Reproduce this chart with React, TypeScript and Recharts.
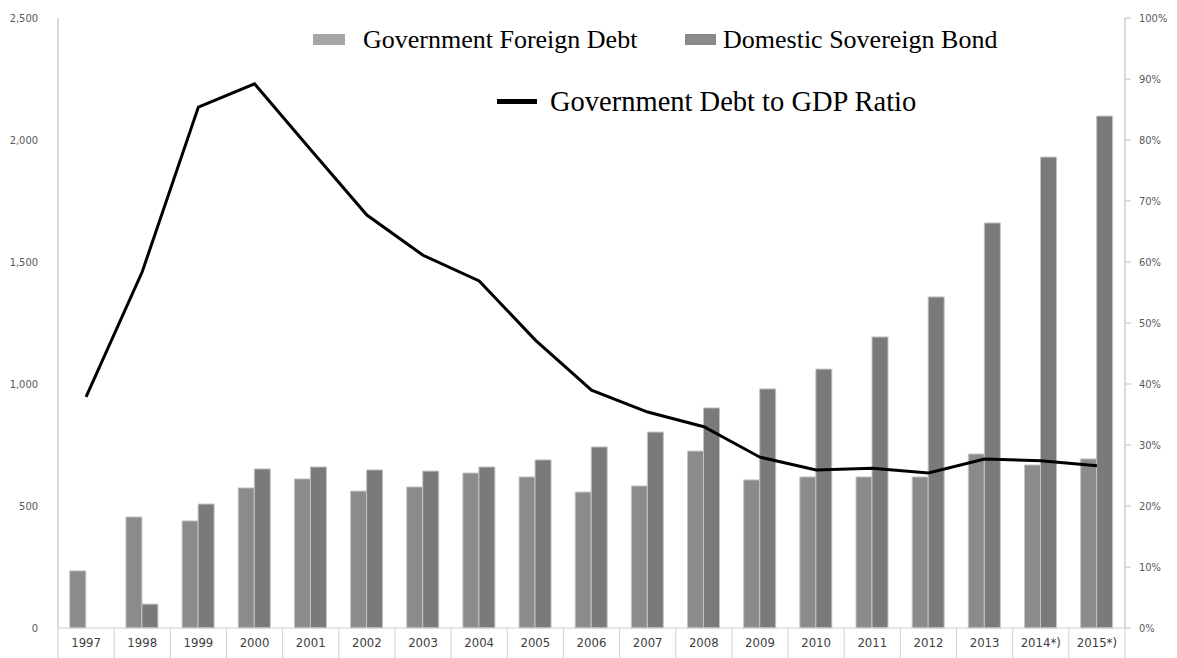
import { ComposedChart, Bar, Line, XAxis, YAxis } from 'recharts';

const years = ['1997', '1998', '1999', '2000', '2001', '2002', '2003', '2004', '2005', '2006', '2007', '2008', '2009', '2010', '2011', '2012', '2013', '2014*)', '2015*)'];
const foreignDebt = [234, 455, 439, 574, 611, 561, 578, 635, 619, 557, 582, 725, 607, 619, 619, 619, 713, 668, 693];
const domesticBond = [0, 98, 508, 652, 660, 648, 643, 660, 689, 742, 803, 902, 980, 1061, 1193, 1357, 1660, 1930, 2098];
const debtToGdp = [37.9, 58.4, 85.4, 89.2, 78.4, 67.7, 61.1, 56.9, 47.2, 39.0, 35.4, 33.0, 28.0, 25.9, 26.2, 25.4, 27.7, 27.4, 26.6];
const leftTicks = [0, 500, 1000, 1500, 2000, 2500];
const rightTicks = [0, 10, 20, 30, 40, 50, 60, 70, 80, 90, 100];

const data = years.map((year, i) => ({
  year,
  foreign: foreignDebt[i],
  domestic: domesticBond[i],
  ratio: debtToGdp[i],
}));

const BAND = (1125 - 58) / years.length;

// category label with table-like separators
const YearTick = (props: any) => {
  const { x, y, payload, index } = props;
  const top = y - 8;
  return (
    <g>
      <line x1={x - BAND / 2} y1={top} x2={x - BAND / 2} y2={top + 30} stroke="#d0d0d0" />
      {index === years.length - 1 && (
        <line x1={x + BAND / 2} y1={top} x2={x + BAND / 2} y2={top + 30} stroke="#d0d0d0" />
      )}
      <text x={x} y={top + 19} textAnchor="middle" fontSize={13} fill="#404040" fontFamily="'DejaVu Sans Condensed', 'Liberation Sans', sans-serif">
        {payload.value}
      </text>
    </g>
  );
};

const serif = "'Liberation Serif', 'Times New Roman', serif";

// legend drawn on top of the plot, as in the original
const LegendOverlay = () => (
  <svg width={1177} height={130} style={{ position: 'absolute', left: 0, top: 0, pointerEvents: 'none' }}>
    <rect x={313} y={34} width={32} height={11} fill="#a6a6a6" />
    <text x={363} y={48} fontSize={26} fontFamily={serif} fill="#000">Government Foreign Debt</text>
    <rect x={685} y={34} width={31} height={11} fill="#8a8a8a" />
    <text x={723} y={48} fontSize={26} fontFamily={serif} fill="#000">Domestic Sovereign Bond</text>
    <rect x={497} y={99} width={40} height={5} fill="#000" />
    <text x={550} y={111} fontSize={28.5} fontFamily={serif} fill="#000">Government Debt to GDP Ratio</text>
  </svg>
);

export default function App() {
  return (
    <div style={{ position: 'absolute', left: 0, top: 0, width: 1177, height: 658, background: '#fff' }}>
      <ComposedChart
        width={1177}
        height={658}
        data={data}
        margin={{ top: 18, right: 0, bottom: 0, left: 0 }}
        barGap={0}
        barCategoryGap="21%"
      >
        <XAxis
          dataKey="year"
          height={30}
          axisLine={{ stroke: '#d0d0d0' }}
          tickLine={false}
          tick={<YearTick />}
          interval={0}
        />
        <YAxis
          yAxisId="left"
          width={58}
          domain={[0, 2500]}
          ticks={leftTicks}
          tickFormatter={(v: number) => v.toLocaleString('en-US')}
          axisLine={{ stroke: '#d9d9d9', strokeWidth: 2 }}
          tickLine={false}
          tickMargin={14}
          tick={{ fontSize: 11, fill: '#595959', fontFamily: "'DejaVu Sans Condensed', 'Liberation Sans', sans-serif" }}
        />
        <YAxis
          yAxisId="right"
          orientation="right"
          width={52}
          domain={[0, 100]}
          ticks={rightTicks}
          tickFormatter={(v: number) => `${v}%`}
          axisLine={{ stroke: '#d9d9d9', strokeWidth: 2 }}
          tickLine={{ stroke: '#bfbfbf' }}
          tickSize={6}
          tickMargin={8}
          tick={{ fontSize: 11, fill: '#595959', fontFamily: "'DejaVu Sans Condensed', 'Liberation Sans', sans-serif" }}
        />
        <Bar yAxisId="left" dataKey="foreign" name="Government Foreign Debt" fill="#8b8b8b" stroke="#c4c4c4" strokeWidth={1} isAnimationActive={false} />
        <Bar yAxisId="left" dataKey="domestic" name="Domestic Sovereign Bond" fill="#7a7a7a" stroke="#c4c4c4" strokeWidth={1} isAnimationActive={false} />
        <Line yAxisId="right" dataKey="ratio" name="Government Debt to GDP Ratio" type="linear" stroke="#000" strokeWidth={3} dot={false} isAnimationActive={false} />
      </ComposedChart>
      <LegendOverlay />
    </div>
  );
}
